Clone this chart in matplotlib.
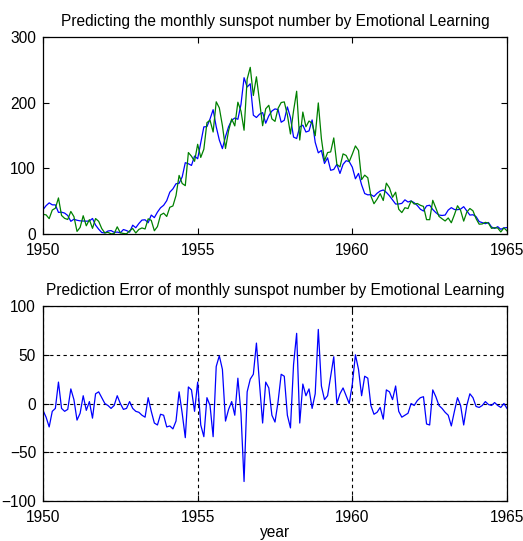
import numpy as np
import matplotlib
matplotlib.use('Agg')
import matplotlib.pyplot as plt

plt.rcParams['font.family'] = ['Liberation Sans', 'DejaVu Sans']

# monthly sunspot number, one sample every 0.1 year from 1950 to 1965
sunspots = [30.0, 29.1, 23.4, 36.4, 39.3, 54.9, 28.2, 23.8, 22.1, 34.3,
            26.5, 3.9, 10.0, 27.8, 12.5, 21.8, 8.6, 23.5, 19.3, 8.2, 1.6, 2.5,
            0.2, 0.5, 10.9, 1.8, 0.8, 0.2, 4.8, 8.4, 1.5, 7.0, 9.2, 7.6,
            23.1, 20.8, 4.9, 11.3, 28.9, 31.7, 26.7, 40.7, 42.7, 58.5, 89.2, 76.9,
            73.6, 124.0, 118.4, 110.7, 136.6, 116.6, 129.1, 169.6, 173.2, 155.3, 201.3, 192.1,
            165.0, 130.2, 157.4, 175.2, 164.6, 200.7, 187.2, 158.0, 235.8, 253.8, 210.9, 239.4,
            202.5, 164.9, 190.7, 196.0, 175.3, 171.5, 191.4, 200.2, 201.2, 181.5, 152.3, 187.6,
            217.4, 143.1, 185.7, 163.3, 172.0, 168.7, 149.6, 199.6, 145.2, 111.4, 124.0, 125.0,
            146.3, 106.0, 102.2, 122.0, 119.6, 110.2, 121.7, 134.1, 127.2, 82.8, 89.6, 85.6,
            57.9, 46.1, 53.0, 61.4, 51.0, 77.4, 70.2, 55.9, 63.6, 37.7, 32.6, 40.0,
            38.7, 50.3, 45.6, 46.4, 43.7, 42.0, 21.8, 21.8, 51.3, 39.5, 26.9, 23.2,
            19.8, 24.4, 17.1, 29.3, 43.0, 35.9, 19.6, 33.2, 38.8, 35.3, 23.4, 14.9,
            15.3, 17.7, 16.5, 8.6, 9.5, 9.1, 3.1, 9.3, 4.7]

# prediction error (actual - predicted)
error = [-7, -14, -24, -8, -5, 22, -5, -8, -6, 15,
         4, -17, -10, 8, -7, 2, -15, 10, 12, 6,
         0, -2, -5, -2, 8, 0, -6, -5, 2, -5,
         -8, -9, -12, -14, 6, -8, -20, -22, -11, -12,
         -24, -23, -26, -18, 12, -10, -35, 17, 14, -8,
         22, -22, -34, 6, -2, -34, 38, 49, 35, -18,
         -6, 2, -12, 26, -10, -80, 12, 25, 30, 62,
         20, -20, 22, 16, -12, -19, 2, 30, 28, -12,
         -25, 40, 72, -20, 20, 8, 15, -5, 10, 76,
         18, 4, 8, 28, 48, 0, 10, 16, 8, 0,
         20, 50, 35, 8, 28, 26, -2, -11, -9, -4,
         -16, 14, 12, 4, 18, -8, -14, -12, -10, 0,
         -2, 3, 6, 7, -21, -22, 14, 7, -2, -5,
         -9, -12, -23, -8, 6, -2, -22, -2, 10, 6,
         -3, -4, -2, 2, -1, -2, 1, -2, -4, 0,
         -5]

year_ticks = [1950, 1955, 1960, 1965]
top_yticks = [0, 100, 200, 300]
err_yticks = [-100, -50, 0, 50, 100]

actual = np.array(sunspots)
err = np.array(error, dtype=float)
predicted = actual - err
t = np.linspace(1950, 1965, len(actual))

fs = 11.2

fig = plt.figure(figsize=(5.23, 5.41), dpi=100)
ax1 = fig.add_axes([0.0822, 0.5675, 0.8872, 0.3641])
ax2 = fig.add_axes([0.0822, 0.0739, 0.8872, 0.3604])

ax1.plot(t, predicted, color=(0, 0, 1), lw=0.9)
ax1.plot(t, actual, color=(0, 0.5, 0), lw=0.9)
ax1.set_xlim(1950, 1965)
ax1.set_ylim(0, 300)
ax1.set_xticks(year_ticks)
ax1.set_yticks(top_yticks)
ax1.set_title('Predicting the monthly sunspot number by Emotional Learning',
              fontsize=fs, pad=8)

ax2.plot(t, err, color=(0, 0, 1), lw=0.9)
ax2.set_xlim(1950, 1965)
ax2.set_ylim(-100, 100)
ax2.set_xticks(year_ticks)
ax2.set_yticks(err_yticks)
ax2.grid(True, color='black', linestyle=(0, (3, 3)), lw=0.8)
ax2.set_title('Prediction Error of monthly sunspot number by Emotional Learning',
              fontsize=fs, pad=8)
ax2.set_xlabel('year', fontsize=fs, labelpad=0)

for ax in (ax1, ax2):
    ax.tick_params(direction='in', length=4, width=0.8, labelsize=fs,
                   top=True, right=True, color='black')
    ax.tick_params(axis='x', pad=6.5)
    ax.tick_params(axis='y', pad=5)
    for s in ax.spines.values():
        s.set_linewidth(0.9)
        s.set_color('black')

fig.savefig('out.png', dpi=100)
